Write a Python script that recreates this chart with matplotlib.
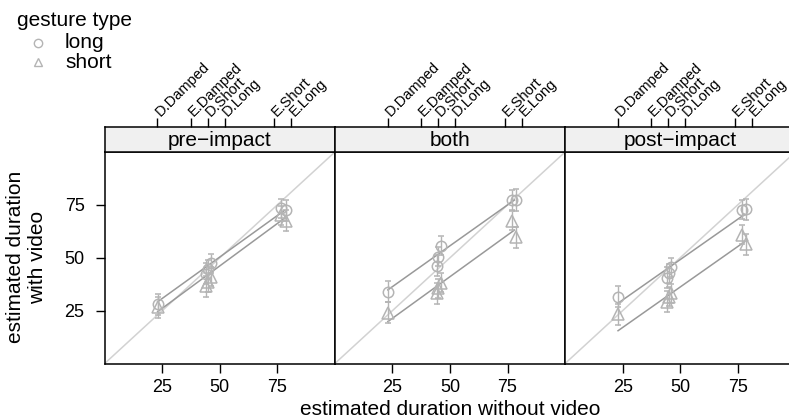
import matplotlib
matplotlib.use("Agg")
import matplotlib.pyplot as plt

plt.rcParams['font.family'] = ['Liberation Sans', 'DejaVu Sans']

panels = ["pre\u2212impact", "both", "post\u2212impact"]
gestures = ["long", "short"]

# estimated duration without video for each condition
cond_x = [23.0, 44.2, 45.0, 46.0, 76.8, 78.6]
cond_err = [5.0, 5.0, 4.5, 4.5, 4.5, 5.0]

# estimated duration with video: panel -> gesture -> values per condition
with_video = {
    "pre\u2212impact": {"long": [28.0, 42.5, 44.5, 47.5, 73.5, 72.5],
                        "short": [26.5, 36.5, 38.5, 41.0, 70.0, 67.5]},
    "both": {"long": [34.0, 46.2, 50.5, 55.6, 77.3, 77.3],
             "short": [24.0, 33.2, 35.5, 38.2, 67.4, 59.7]},
    "post\u2212impact": {"long": [31.6, 40.5, 42.6, 45.5, 72.6, 72.9],
                         "short": [23.3, 29.2, 31.6, 33.2, 60.8, 56.4]},
}

# fitted lines, value at start and end of fit range
fit_x = [23.0, 78.0]
fit_y = {
    "pre\u2212impact": {"long": [29.2, 72.3], "short": [24.5, 68.6]},
    "both": {"long": [34.8, 77.3], "short": [19.8, 63.1]},
    "post\u2212impact": {"long": [28.5, 70.5], "short": [15.5, 57.6]},
}

# audio-only reference durations shown on the top axis
ref_names = ["D.Damped", "E.Damped", "D.Short", "D.Long", "E.Short", "E.Long"]
ref_pos = [22.9, 37.4, 44.8, 52.2, 73.7, 81.1]

markers = {"long": "o", "short": "^"}
msize = {"long": 7.5, "short": 8.5}
pt_col = "#b4b4b4"
line_col = "#999999"
diag_col = "#d2d2d2"

W, H = 789, 419
fig = plt.figure(figsize=(W / 100, H / 100), dpi=100)

px0, pw = 104.7, 230.2
ptop, pbot = 152.0, 363.5
stop = 127.0

for i, name in enumerate(panels):
    left = (px0 + i * pw) / W
    ax = fig.add_axes([left, (H - pbot) / H, pw / W, (pbot - ptop) / H])
    ax.plot([0, 100], [0, 100], color=diag_col, lw=1.1, zorder=1)
    for g in gestures:
        ax.plot(fit_x, fit_y[name][g], color=line_col, lw=1.1, zorder=2)
        ax.errorbar(cond_x, with_video[name][g], yerr=cond_err, fmt=markers[g],
                    mfc="none", mec=pt_col, ms=msize[g], mew=1.1, ecolor=pt_col,
                    elinewidth=1.0, capsize=2.5, capthick=1.0, zorder=3)
    ax.set_xlim(0, 100)
    ax.set_ylim(0, 100)
    ax.set_xticks([25, 50, 75])
    ax.tick_params(axis="x", direction="out", length=6.5, width=1,
                   labelsize=13, pad=4.5)
    ax.tick_params(axis="y", direction="out", length=6.5, width=1,
                   labelsize=13, pad=8)
    if i == 0:
        ax.set_yticks([25, 50, 75])
    else:
        ax.set_yticks([])
    for s in ax.spines.values():
        s.set_linewidth(1.1)

    # strip with condition name and top axis
    sax = fig.add_axes([left, (H - ptop) / H, pw / W, (ptop - stop) / H])
    sax.set_facecolor("#f0f0f0")
    sax.set_xlim(0, 100)
    sax.set_ylim(0, 1)
    sax.set_yticks([])
    sax.xaxis.tick_top()
    sax.set_xticks(ref_pos)
    sax.set_xticklabels(ref_names, rotation=45, ha="left", va="center",
                        rotation_mode="anchor", fontsize=10.5)
    sax.tick_params(axis="x", direction="out", length=6.5, width=1, pad=3)
    sax.text(50, 0.45, name, ha="center", va="center", fontsize=15)
    for s in sax.spines.values():
        s.set_linewidth(1.1)

fig.text((px0 + 1.5 * pw) / W, 1 - 409 / H, "estimated duration without video",
         ha="center", va="center", fontsize=15)
fig.text(26.5 / W, 1 - 257 / H, "estimated duration\nwith video", rotation=90,
         ha="center", va="center", fontsize=15, linespacing=1.15)

# legend
fig.text(17 / W, 1 - 20 / H, "gesture type", ha="left", va="center", fontsize=15)
for j, g in enumerate(gestures):
    yy = 1 - (43 + j * 19) / H
    fig.lines.append(plt.Line2D([38 / W], [yy], marker=markers[g], mfc="none",
                                mec=pt_col, ms=6, mew=1.0,
                                transform=fig.transFigure, figure=fig))
    fig.text(65 / W, yy, g, ha="left", va="center", fontsize=15)

fig.savefig("out.png", dpi=100)
